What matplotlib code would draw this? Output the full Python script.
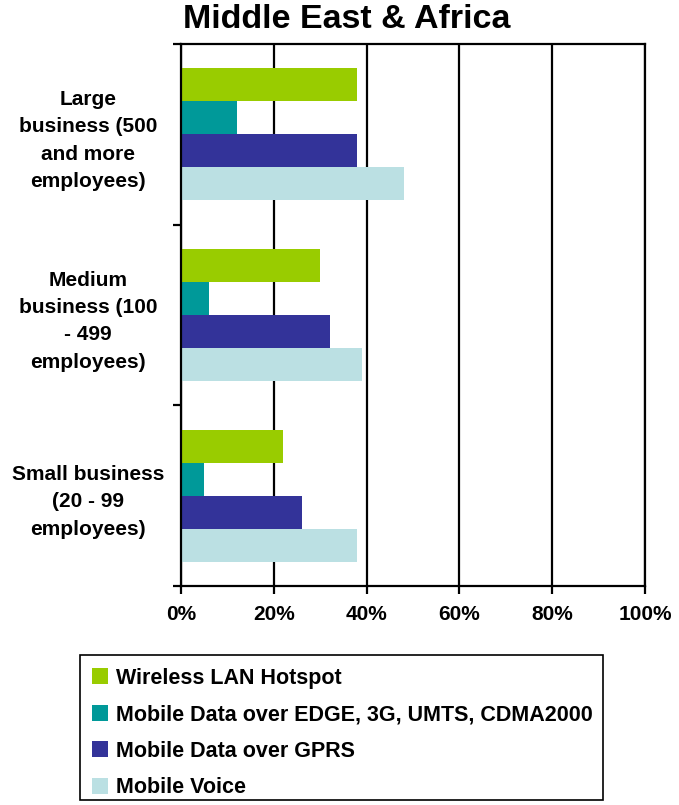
import numpy as np
from matplotlib import pyplot as plt
from matplotlib.patches import Rectangle
from matplotlib.ticker import FuncFormatter

plt.rcParams['font.family'] = ['Liberation Sans', 'DejaVu Sans']
plt.rcParams['font.weight'] = 'bold'

# data
categories = ["Large\nbusiness (500\nand more\nemployees)",
              "Medium\nbusiness (100\n- 499\nemployees)",
              "Small business\n(20 - 99\nemployees)"]
series = ["Wireless LAN Hotspot",
          "Mobile Data over EDGE, 3G, UMTS, CDMA2000",
          "Mobile Data over GPRS",
          "Mobile Voice"]
wireless = [38, 30, 22]
edge = [12, 6, 5]
gprs = [38, 32, 26]
voice = [48, 39, 38]
colors = ['#99cc00', '#009999', '#333399', '#bbe0e3']

fig = plt.figure(figsize=(6.79, 8.05), dpi=100)
ax = fig.add_axes([0.2666, 0.272, 0.6834, 0.6733])

y = np.arange(len(categories))
h = 0.183
for i, (vals, c, lab) in enumerate(zip([wireless, edge, gprs, voice], colors, series)):
    ax.barh(y + (i - 1.5) * h, vals, height=h, color=c, label=lab)

ax.set_xlim(0, 100)
ax.set_ylim(2.5, -0.5)
ax.set_xticks(range(0, 101, 20))
ax.xaxis.set_major_formatter(FuncFormatter(lambda v, p: f"{int(v)}%"))
ax.grid(axis='x', color='black', linewidth=1.6)
ax.set_axisbelow(True)

# category labels centred between the separator ticks
ax.set_yticks([-0.5, 0.5, 1.5, 2.5])
ax.set_yticklabels([])
ax.tick_params(axis='y', length=6, width=1.6, direction='out')
ax.set_yticks(y, minor=True)
ax.set_yticklabels(categories, minor=True, fontsize=15, fontweight='bold',
                   ha='center', linespacing=1.55)
ax.tick_params(axis='y', which='minor', length=0, pad=67)
ax.tick_params(axis='x', length=6, width=1.6, labelsize=15, pad=8)
for s in ax.spines.values():
    s.set_linewidth(1.6)

fig.text(0.511, 0.9646, "Middle East & Africa", fontsize=24.5, fontweight='bold',
         ha='center', va='baseline')

# legend entries without frame, box drawn separately
leg = fig.legend(loc='lower left', bbox_to_anchor=(0.118, -0.0064, 0.77, 0.18),
                 mode='expand', frameon=False,
                 handlelength=0.75, handleheight=0.75, handletextpad=0.35,
                 labelspacing=0.72, borderpad=0.55, borderaxespad=0,
                 prop={'weight': 'bold', 'size': 15.5})
fig.patches.append(Rectangle((80 / 679, 1 - 800 / 805), 523 / 679, 145 / 805,
                             transform=fig.transFigure, fill=False,
                             edgecolor='black', linewidth=1.2))

fig.savefig("out.png", dpi=100)
